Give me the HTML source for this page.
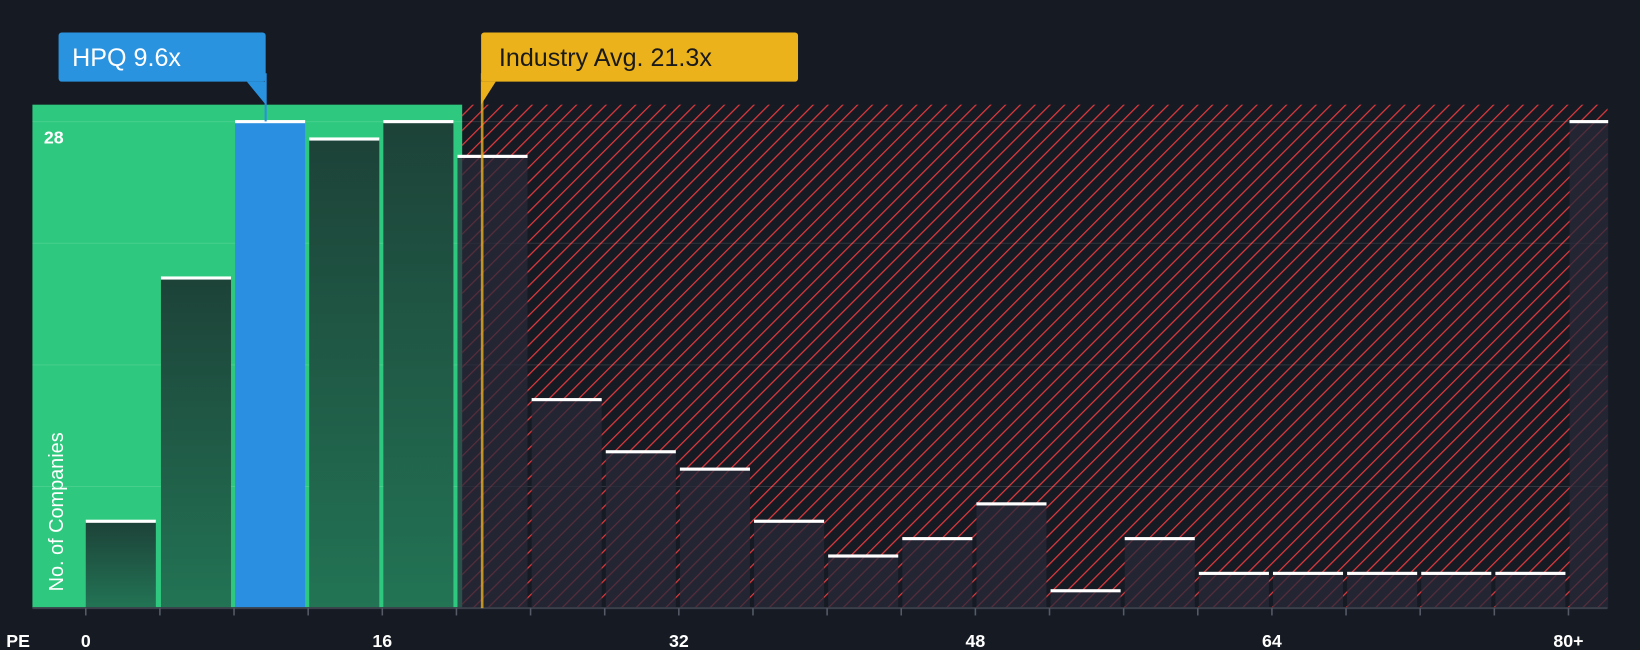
<!DOCTYPE html>
<html><head><meta charset="utf-8"><style>
html,body{margin:0;padding:0;background:#151a23;}
svg{display:block;font-family:"Liberation Sans",sans-serif;}
</style></head><body>
<svg width="1640" height="650" viewBox="0 0 1568 621" preserveAspectRatio="none">
<defs>
<pattern id="hatch" patternUnits="userSpaceOnUse" width="10" height="10" patternTransform="rotate(45)">
<rect width="10" height="10" fill="#151a23"/>
<line x1="0" y1="0" x2="0" y2="10" stroke="#e0393e" stroke-width="2.4"/>
</pattern>
<linearGradient id="gbar" x1="0" y1="0" x2="0" y2="1"><stop offset="0" stop-color="#1d4238"/><stop offset="1" stop-color="#227455"/></linearGradient>
</defs>
<rect x="31" y="100" width="411" height="481" fill="#2ec97e"/>
<rect x="442" y="100" width="1095" height="481" fill="url(#hatch)"/>
<g id="grid"></g>
<g id="bars"></g>
<line x1="31" y1="581" x2="1537" y2="581" stroke="#3a3f4a" stroke-width="2"/>
<g id="xt"></g>
<text x="42" y="137" fill="#fff" font-size="17" font-weight="bold">28</text>
<text transform="translate(60,565) rotate(-90)" fill="#fff" font-size="19">No. of Companies</text>
<text x="6" y="618" fill="#fff" font-size="17" font-weight="bold">PE</text>
<line x1="461" y1="70" x2="461" y2="581" stroke="#e8b020" stroke-width="2.5" opacity="0.8"/>
<line x1="254" y1="70" x2="254" y2="116" stroke="#2a8fe0" stroke-width="2"/>
<g>
<rect x="56" y="31" width="198" height="47" rx="3" fill="#2a93e0"/>
<polygon points="236,78 254,78 254,100" fill="#2a93e0"/>
<text x="69" y="63" fill="#fff" font-size="24">HPQ 9.6x</text></g>
<g>
<rect x="460" y="31" width="303" height="47" rx="3" fill="#ecb21b"/>
<polygon points="460,78 474,78 460,100" fill="#ecb21b"/>
<text x="477" y="63" fill="#1a1a1a" font-size="24">Industry Avg. 21.3x</text></g>
</svg>
<script>
const binStarts=[0,4,8,12,16,20,24,28,32,36,40,44,48,52,56,60,64,68,72,76,80];
const counts=[5,19,28,27,28,26,12,9,8,5,3,4,6,1,4,2,2,2,2,2,28];
const tickValues=[0,16,32,48,64,80];
const tickLabels=["0","16","32","48","64","80+"];
const gridValues=[7,14,21,28];
const hpqBin=2, greenLimit=20;
const ns="http://www.w3.org/2000/svg";
const X=v=>82+v*17.72, Y=v=>581-v*16.6;
function mk(t,a,p){const e=document.createElementNS(ns,t);for(const k in a)e.setAttribute(k,a[k]);p.appendChild(e);return e;}
const g=document.getElementById('grid');
gridValues.forEach(v=>{const l=mk('line',{x1:31,x2:1537,y1:Y(v),y2:Y(v),stroke:'rgba(255,255,255,0.12)','stroke-width':1},g);

});
const b=document.getElementById('bars');
binStarts.forEach((s,i)=>{const x0=X(s)+(i?1:0), w=(i==20?37:67);const y=Y(counts[i]);
let fill=s<greenLimit?'url(#gbar)':'rgba(40,42,58,0.75)';if(i==hpqBin)fill='#2a8fe0';
const r=mk('rect',{x:x0,y:y,width:w,height:581-y,fill:fill},b);


const c=mk('rect',{x:x0,y:y-1.5,width:w,height:3,fill:'#fff'},b);

});
const xt=document.getElementById('xt');
binStarts.forEach(s=>{const l=mk('line',{x1:X(s),x2:X(s),y1:581,y2:588,stroke:'#555a66','stroke-width':1.5},xt);

});
tickValues.forEach((v,i)=>{const t=mk('text',{x:X(v),y:618,fill:'#fff','font-size':17,'font-weight':'bold','text-anchor':'middle'},xt);t.textContent=tickLabels[i];

});
</script>
</body></html>
